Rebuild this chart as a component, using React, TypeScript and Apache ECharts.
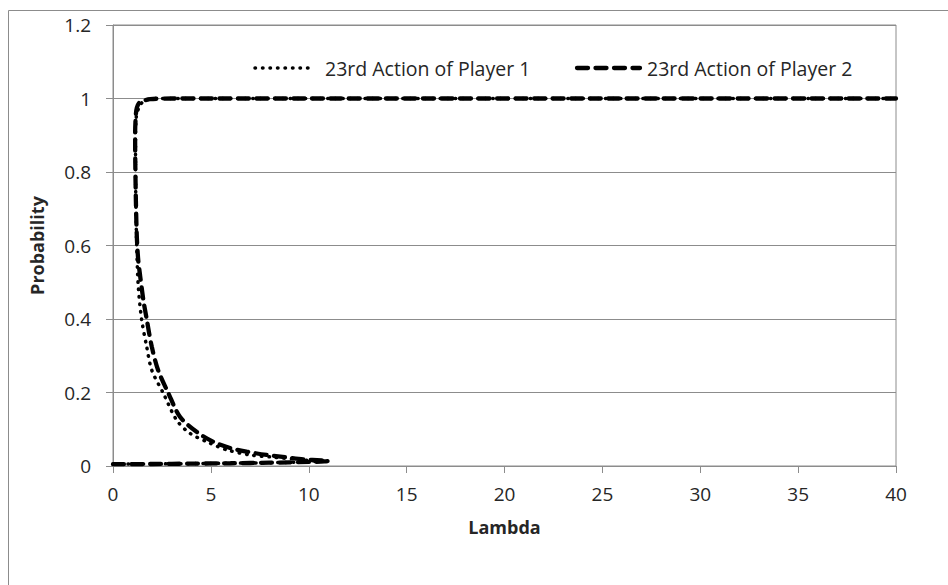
import React, { useEffect, useRef } from "react";
import * as echarts from "echarts";

// Lambda ticks and probability ticks
const xTicks = [0, 5, 10, 15, 20, 25, 30, 35, 40];
const yTicks = [0, 0.2, 0.4, 0.6, 0.8, 1, 1.2];

const seriesNames = ["23rd Action of Player 1", "23rd Action of Player 2"];

// Equilibrium path of player 1's 23rd action: [lambda, probability], in path order
const player1Path: [number, number][] = [
  [0, 0.005], [2, 0.0055], [4, 0.0065], [6, 0.0075], [8, 0.009], [9.5, 0.0105],
  [10.3, 0.0118], [10.5, 0.0128], [10.3, 0.0138], [9.55, 0.0175], [8.19, 0.024],
  [7.0, 0.03], [5.81, 0.044], [4.96, 0.062], [3.93, 0.089], [3.25, 0.125],
  [2.57, 0.198], [1.98, 0.261], [1.72, 0.325], [1.46, 0.4], [1.29, 0.49],
  [1.21, 0.6], [1.16, 0.75], [1.15, 0.88], [1.19, 0.95], [1.38, 0.982],
  [1.63, 0.994], [2.2, 1.0], [5, 1.0], [40, 1.0],
];

// Equilibrium path of player 2's 23rd action: [lambda, probability], in path order
const player2Path: [number, number][] = [
  [0, 0.005], [2, 0.0055], [4, 0.0065], [6, 0.0075], [8, 0.009], [10, 0.011],
  [10.8, 0.0125], [11.0, 0.0138], [10.66, 0.015], [9.72, 0.018], [8.79, 0.024],
  [7.85, 0.03], [6.83, 0.039], [5.98, 0.049], [5.12, 0.066], [4.27, 0.093],
  [3.42, 0.134], [2.83, 0.198], [2.31, 0.26], [1.98, 0.325], [1.72, 0.4],
  [1.55, 0.452], [1.38, 0.52], [1.29, 0.56], [1.22, 0.62], [1.17, 0.72],
  [1.14, 0.82], [1.13, 0.9], [1.16, 0.95], [1.22, 0.975], [1.38, 0.99],
  [1.9, 0.998], [3, 1.0], [40, 1.0],
];

const FONT = "Open Sans";
const TEXT = "#262626";
const GRID = "#8c8c8c";

// Line looks shared by the series and their legend keys
const DOTTED = { width: 3.5, dash: [0.5, 7] };
const DASHED = { width: 4.3, dash: [11, 7.5] };

export default function App() {
  const ref = useRef<HTMLDivElement>(null);

  useEffect(() => {
    if (!ref.current) return;
    const chart = echarts.init(ref.current, undefined, { renderer: "svg" });

    const legendKey = (x1: number, x2: number, look: { width: number; dash: number[] }) => ({
      type: "line",
      shape: { x1, y1: 68, x2, y2: 68 },
      style: { stroke: "#000", lineWidth: look.width, lineDash: look.dash, lineCap: "round" },
      silent: true,
    });
    const legendText = (x: number, text: string) => ({
      type: "text",
      x,
      y: 68,
      style: {
        text,
        fill: TEXT,
        fontFamily: FONT,
        fontSize: 19.5,
        verticalAlign: "middle",
        align: "left",
      },
      silent: true,
    });

    chart.setOption({
      animation: false,
      backgroundColor: "#fff",
      graphic: [
        {
          type: "rect",
          shape: { x: 8.5, y: 10.5, width: 1200, height: 800 },
          style: { fill: "none", stroke: GRID, lineWidth: 1 },
          silent: true,
        },
        legendKey(255, 309, DOTTED),
        legendText(325, seriesNames[0]),
        legendKey(577, 640, DASHED),
        legendText(647, seriesNames[1]),
      ],
      grid: {
        left: 113,
        top: 25,
        right: 52,
        bottom: 119,
        show: true,
        borderColor: GRID,
        borderWidth: 1,
      },
      xAxis: {
        type: "value",
        min: xTicks[0],
        max: xTicks[xTicks.length - 1],
        interval: 5,
        name: "Lambda",
        nameLocation: "middle",
        nameGap: 52,
        nameTextStyle: { fontFamily: FONT, fontSize: 18, fontWeight: "bold", color: TEXT },
        axisLine: { show: true, onZero: false, lineStyle: { color: GRID } },
        axisTick: { show: true, length: 7, lineStyle: { color: GRID } },
        axisLabel: { fontFamily: FONT, fontSize: 19, color: TEXT, margin: 18 },
        splitLine: { show: false },
      },
      yAxis: {
        type: "value",
        min: yTicks[0],
        max: yTicks[yTicks.length - 1],
        interval: 0.2,
        name: "Probability",
        nameLocation: "middle",
        nameGap: 67,
        nameTextStyle: { fontFamily: FONT, fontSize: 18, fontWeight: "bold", color: TEXT },
        axisLine: { show: true, lineStyle: { color: GRID } },
        axisTick: { show: true, length: 7, lineStyle: { color: GRID } },
        axisLabel: {
          fontFamily: FONT,
          fontSize: 19,
          color: TEXT,
          margin: 22,
          formatter: (v: number) => String(+v.toFixed(1)),
        },
        splitLine: { show: true, lineStyle: { color: GRID, width: 1 } },
      },
      series: [
        {
          name: seriesNames[0],
          type: "line",
          data: player1Path,
          showSymbol: false,
          symbol: "none",
          smooth: 0.3,
          lineStyle: { color: "#000", width: DOTTED.width, type: DOTTED.dash, cap: "round" },
          z: 3,
        },
        {
          name: seriesNames[1],
          type: "line",
          data: player2Path,
          showSymbol: false,
          symbol: "none",
          smooth: 0.3,
          lineStyle: { color: "#000", width: DASHED.width, type: DASHED.dash, cap: "round" },
          z: 2,
        },
      ],
    });

    return () => chart.dispose();
  }, []);

  return (
    <div
      ref={ref}
      style={{ position: "fixed", left: 0, top: 0, width: 948, height: 585, background: "#fff" }}
    />
  );
}
